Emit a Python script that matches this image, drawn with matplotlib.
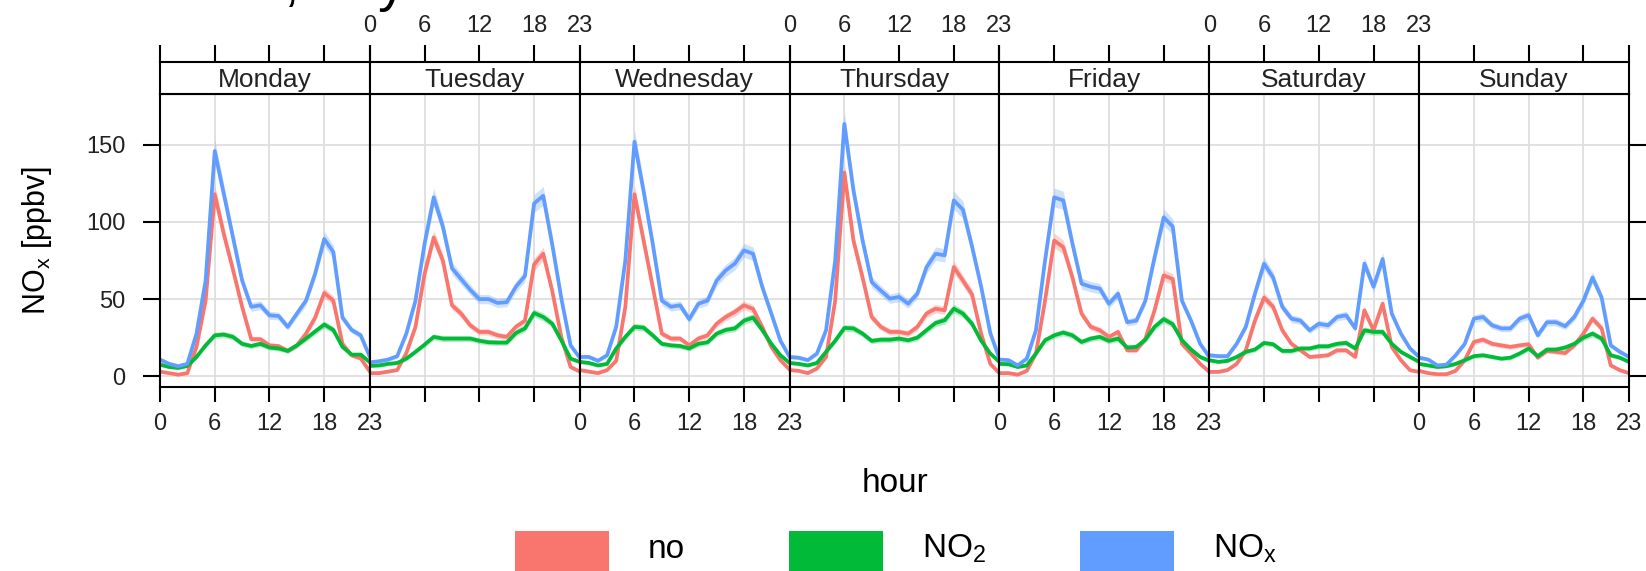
import numpy as np
import matplotlib
matplotlib.use("Agg")
import matplotlib.pyplot as plt
from matplotlib.patches import Rectangle

plt.rcParams['font.family'] = ['Liberation Sans', 'DejaVu Sans']

days = ["Monday", "Tuesday", "Wednesday", "Thursday", "Friday", "Saturday", "Sunday"]
hours = np.arange(24)
hour_ticks = [0, 6, 12, 18, 23]
y_ticks = [0, 50, 100, 150]

# hourly means (ppbv), one row per weekday
no = [
    [3, 2, 1, 2, 19, 49, 118, 92, 69, 45, 24, 24, 20, 19.5, 16.5, 20, 27.6, 38, 54, 49, 21, 13.6, 11.5, 3],
    [2, 2, 3, 4, 15, 32, 66.5, 90, 75, 46, 40.6, 33, 28.7, 28.7, 26.5, 25.5, 32, 36, 72.5, 79.4, 55, 25, 6, 3],
    [4, 3, 2, 4, 10, 45, 118, 88, 58, 27.6, 24.4, 24.4, 20, 24.4, 26.5, 34, 38.4, 41.7, 46, 43.6, 32, 19, 10.4, 4.3],
    [4, 3.5, 2, 5, 12.5, 49, 132, 88, 64, 38.4, 32, 28.7, 28.7, 27.6, 32, 40.6, 43.8, 42.7, 70.8, 62, 53, 27.6, 8, 2],
    [2, 2, 1, 3.5, 14.7, 49, 88, 83.7, 64, 40.6, 32, 29.8, 25.5, 28.7, 16.8, 16.8, 24.4, 42.7, 65.4, 63, 21, 14.7, 8, 2.8],
    [2.8, 2.8, 4, 8, 16.8, 36, 51, 45, 29.8, 21, 16.8, 12.5, 13, 13.6, 16.8, 16.8, 12.5, 42.7, 29.8, 47, 19, 10.4, 3.9, 2.8],
    [3.5, 2, 1.3, 1.3, 3.5, 10.4, 22.2, 23.7, 21, 20, 19, 20, 20.7, 12, 16.4, 15.8, 15, 20, 27.6, 37.3, 31, 7, 3.9, 2],
]
no2 = [
    [7.5, 6, 5.4, 6.7, 12.5, 20, 26.5, 27, 25.5, 21, 19.6, 21, 18.6, 18, 16.4, 20, 24.4, 29, 33.5, 30, 19, 14, 14, 9],
    [6.7, 7, 8, 8.6, 11.4, 15.8, 20.5, 25.5, 24.4, 24.4, 24.4, 24.4, 23, 22, 21.8, 21.8, 28, 31, 41, 38.4, 34, 23, 11.4, 9.3],
    [9.3, 8.6, 7, 8, 18, 25.5, 32, 31.5, 26.5, 21, 20, 19.6, 18, 21, 22, 27.6, 30, 31, 36, 38, 30, 21, 13.6, 8.6],
    [8.6, 8, 7, 8.6, 15.8, 23, 31.3, 31, 27.6, 22.9, 23.7, 23.7, 24.4, 23.3, 25, 29.8, 34.5, 36.3, 43.8, 40.6, 34, 23, 14.7, 9.3],
    [8, 7.8, 6, 7, 14.7, 23.3, 26.5, 28.3, 26.5, 22.2, 24.4, 25.5, 22.9, 24.4, 18.6, 19, 23.7, 32, 37, 33.7, 23.3, 17.3, 12.5, 10],
    [10.4, 9.3, 10, 12.5, 15.8, 17.3, 21.6, 20.7, 16.4, 16.4, 18, 18, 19.4, 19.4, 21, 21.6, 18, 29.8, 28.7, 28.7, 21, 15.8, 12.5, 9.3],
    [8, 7, 6, 6.5, 8, 10.4, 13, 13.6, 12.5, 11.4, 12, 14.7, 18, 13, 17.3, 17.3, 18.6, 21, 25, 27.6, 24.4, 13.6, 12, 9.3],
]
nox = [
    [10.8, 8, 6.5, 8, 27.6, 62, 146, 118, 90, 62, 45, 46, 39.5, 39, 32, 40.6, 49, 66.5, 89, 80.5, 38, 30, 26.5, 12.5],
    [9, 9.7, 10.8, 13, 27.6, 49, 86, 116, 97, 70, 63, 56, 50, 50, 47.5, 48, 58, 65, 112, 117, 85, 50, 20, 12],
    [12.5, 12.5, 10, 13.6, 32, 75, 152, 120, 86, 49, 45, 46, 37, 47, 49, 62, 68.6, 73, 81.6, 79.4, 58, 40.6, 23, 12.5],
    [12.5, 12, 10.4, 14.7, 29.8, 75, 163.6, 120.5, 88, 61, 55.5, 50.3, 51.4, 47, 53.5, 70.6, 79.4, 78.4, 114, 108, 84, 58, 28, 11.4],
    [10.8, 10.4, 7, 11.4, 29.8, 75, 116, 114, 86, 60, 58, 56.8, 47, 53.5, 35, 36, 49, 77, 103, 97, 49, 36, 21, 12.5],
    [13.6, 13, 13, 21, 32, 53.5, 73, 64, 45, 37.3, 36, 29.8, 34, 33, 38.4, 39.5, 31, 73, 58, 76, 40.6, 27.6, 18, 12.5],
    [12, 10.8, 7, 7.5, 13.6, 21, 37.3, 38.4, 33, 31, 31, 37.3, 39.5, 26.5, 35, 35, 32.4, 38.4, 49, 64, 51, 20, 15.8, 12.5],
]

series = [("no", no, "#F8766D"),
          ("NO$_\\mathregular{2}$", no2, "#00BA38"),
          ("NO$_\\mathregular{x}$", nox, "#619CFF")]

W, H = 1646, 571
fig = plt.figure(figsize=(W / 100, H / 100), dpi=100)

left, right = 160 / W, 1629 / W
bot, top, strip_top = 1 - 387 / H, 1 - 94 / H, 1 - 62 / H
pw = (right - left) / 7
tick_col = "#222222"

for i, day in enumerate(days):
    ax = fig.add_axes([left + i * pw, bot, pw, top - bot])
    st = fig.add_axes([left + i * pw, top, pw, strip_top - top])

    for name, data, col in series:
        v = np.array(data[i])
        ci = 0.045 * v + 0.8  # rough confidence band
        ax.fill_between(hours, v - ci, v + ci, color=col, alpha=0.3, lw=0)
        ax.plot(hours, v, color=col, lw=2.7)

    ax.set_xlim(0, 23)
    ax.set_ylim(-7, 183)
    ax.set_xticks(hour_ticks)
    ax.set_yticks(y_ticks)
    ax.grid(True, color="#dedede", lw=1.3)
    ax.set_axisbelow(True)
    ax.tick_params(axis="x", direction="out", length=11, width=1.5, pad=8,
                   labelsize=17, labelcolor=tick_col, labelbottom=(i % 2 == 0))
    ax.tick_params(axis="y", direction="out", length=12, width=1.5, pad=13,
                   labelsize=17, labelcolor=tick_col,
                   left=(i == 0), labelleft=(i == 0), right=(i == 6), labelright=False)
    for sp in ax.spines.values():
        sp.set_linewidth(1.5)
        sp.set_color("black")

    st.set_xlim(0, 23)
    st.set_xticks(hour_ticks)
    st.set_yticks([])
    st.tick_params(axis="x", direction="out", length=12, width=1.5, pad=6,
                   labelsize=17, labelcolor=tick_col,
                   bottom=False, labelbottom=False, top=True, labeltop=(i % 2 == 1))
    for sp in st.spines.values():
        sp.set_linewidth(1.5)
        sp.set_color("black")
    st.text(0.5, 0.45, day, transform=st.transAxes, ha="center", va="center",
            fontsize=19, color=tick_col)

fig.text(37 / W, (bot + top) / 2, "NO$_\\mathregular{x}$ [ppbv]", rotation=90,
         ha="center", va="center", fontsize=22)
fig.text((left + right) / 2, 1 - 484 / H, "hour", ha="center", va="center", fontsize=24)

# title cut off at the top edge, only descenders visible
fig.text(283 / W, 1.0, ",", fontsize=40, va="baseline")
fig.text(378 / W, 1.0, "y", fontsize=40, va="baseline")

# legend
leg_x = [515, 789, 1080]
for (name, data, col), x0 in zip(series, leg_x):
    fig.add_artist(Rectangle((x0 / W, 0), 94 / W, (571 - 531) / H,
                             transform=fig.transFigure, color=col, lw=0))
    fig.text((x0 + 94 + 39) / W, 1 - 549 / H, name, ha="left", va="center", fontsize=24)

fig.savefig("out.png", dpi=100)
